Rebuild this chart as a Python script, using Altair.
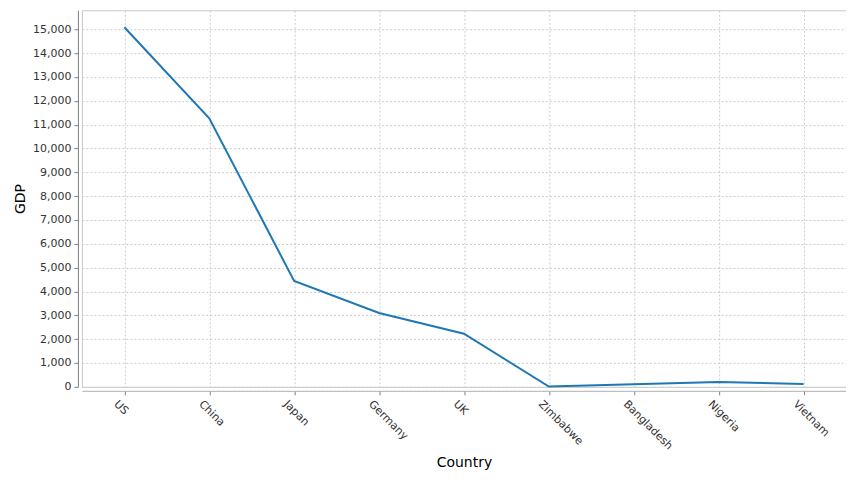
import altair as alt
import pandas as pd

countries = ["US", "China", "Japan", "Germany", "UK", "Zimbabwe", "Bangladesh", "Nigeria", "Vietnam"]
gdp = [15090, 11270, 4440, 3100, 2230, 10, 110, 200, 120]
y_ticks = list(range(0, 16000, 1000))

df = pd.DataFrame({"Country": countries, "GDP": gdp})

chart = alt.Chart(df).mark_line(color="#1f77b4", strokeWidth=2).encode(
    x=alt.X("Country:N", sort=countries,
            scale=alt.Scale(type="point", padding=0.5),
            axis=alt.Axis(title="Country", labelAngle=45, labelAlign="left", labelBaseline="top",
                          labelPadding=3, labelOffset=-5, titlePadding=4, offset=4, tickSize=4,
                          grid=True, gridDash=[2, 2], gridColor="#cccccc",
                          domainColor="#b0b0b0", tickColor="#808080")),
    y=alt.Y("GDP:Q", scale=alt.Scale(domain=[0, 15800], nice=False, zero=True),
            axis=alt.Axis(title="GDP", values=y_ticks, format=",d", offset=4, tickSize=4,
                          labelPadding=3, titlePadding=5,
                          grid=True, gridDash=[2, 2], gridColor="#cccccc",
                          domainColor="#808080", tickColor="#808080")),
).properties(
    width=765, height=377,
    autosize=alt.AutoSizeParams(type="none"),
    padding={"left": 74, "top": 2, "right": 0, "bottom": 84},
).configure_view(
    stroke="#c8c8c8", strokeWidth=1
).configure_axis(
    labelFont="DejaVu Sans", labelFontSize=11, labelColor="#333333",
    titleFont="DejaVu Sans", titleFontSize=14, titleFontWeight="normal", titleColor="#000000",
)

chart.save("out.html", embed_options={"renderer": "svg", "actions": False})
